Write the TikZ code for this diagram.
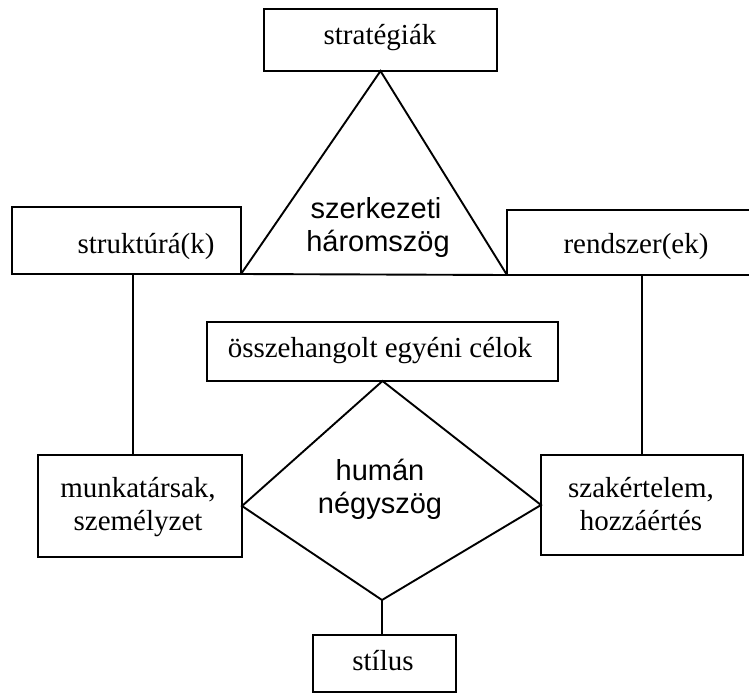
\documentclass[tikz,border=0pt]{standalone}
\usepackage{fontspec}
\setmainfont{Liberation Serif}
\newfontfamily\arialfont{Liberation Sans}
\begin{document}
\begin{tikzpicture}[x=1pt,y=-1pt,
  box/.style={draw, line width=1.9pt, inner sep=0pt, outer sep=0pt},
  lbl/.style={font=\fontsize{29}{33}\selectfont, anchor=base, inner sep=0pt},
  sanslbl/.style={font=\arialfont\fontsize{29}{33}\selectfont, anchor=base, inner sep=0pt},
  link/.style={line width=1.9pt, line join=miter}]
\useasboundingbox (0,0) rectangle (749,693);

% boxes
\node[box, minimum width=233pt, minimum height=62pt]  (strat)  at (380.5,40)   {};
\node[box, minimum width=229pt, minimum height=67pt]  (strukt) at (126.5,240.5) {};
\node[box, minimum width=253pt, minimum height=65pt]  (rend)   at (633.5,242.5) {};
\node[box, minimum width=351pt, minimum height=59pt]  (celok)  at (382.5,351.5) {};
\node[box, minimum width=204pt, minimum height=102pt] (munka)  at (140,506)    {};
\node[box, minimum width=202pt, minimum height=100pt] (szak)   at (642,505)    {};
\node[box, minimum width=143pt, minimum height=57pt]  (stilus) at (384.5,663.5) {};

% box texts
\node[lbl] (tstrat)  at (380,45)  {stratégiák};
\node[lbl] (tstrukt) at (146,253) {struktúrá(k)};
\node[lbl] (trend)   at (636,253) {rendszer(ek)};
\node[lbl] (tcelok)  at (380,357) {összehangolt egyéni célok};
\node[lbl] (tmunka1) at (138,497) {munkatársak,};
\node[lbl] (tmunka2) at (138,530) {személyzet};
\node[lbl] (tszak1)  at (641,497) {szakértelem,};
\node[lbl] (tszak2)  at (641,530) {hozzáértés};
\node[lbl] (tstil)   at (383,670) {stílus};

% structural triangle
\draw[link] (strat.south) -- (strukt.south east) -- (rend.south west) -- cycle;
\node[sanslbl] (tri1) at (376,218) {szerkezeti};
\node[sanslbl] (tri2) at (378,251) {háromszög};

% human quadrangle
\coordinate (dbot) at (382,600);
\draw[link] (celok.south) -- (szak.west) -- (dbot) -- (munka.east) -- cycle;
\node[sanslbl] (dia1) at (380,480) {humán};
\node[sanslbl] (dia2) at (380,513) {négyszög};

% vertical links
\coordinate (lx) at (133,0);
\draw[link] (strukt.south -| lx) -- (munka.north -| lx);
\draw[link] (szak.north) -- (szak.north |- rend.south);
\draw[link] (dbot) -- (stilus.north -| dbot);
\end{tikzpicture}
\end{document}
